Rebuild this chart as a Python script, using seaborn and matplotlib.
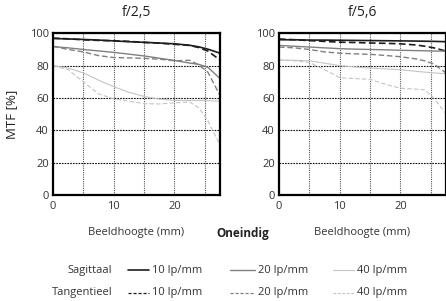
import numpy as np
import pandas as pd
import matplotlib
matplotlib.use("Agg")
import matplotlib.pyplot as plt
from matplotlib.lines import Line2D
import seaborn as sns

hoogte = [0, 2.5, 5, 7.5, 10, 12.5, 15, 17.5, 20, 22.5, 24, 25.5, 27.5]

# f/2,5
s10_25 = [96.8, 96.5, 96.2, 95.8, 95.3, 94.8, 94.4, 94.0, 93.5, 92.6, 91.6, 90.2, 87.7]
t10_25 = [97.0, 96.6, 96.0, 95.6, 95.4, 95.0, 94.4, 93.9, 93.2, 92.5, 91.2, 89.0, 83.5]
s20_25 = [91.8, 91.0, 90.0, 89.1, 88.2, 87.1, 86.0, 84.6, 83.2, 81.6, 80.8, 79.0, 72.0]
t20_25 = [92.0, 90.0, 88.5, 86.2, 85.0, 84.8, 84.5, 84.0, 83.0, 83.3, 80.5, 76.0, 61.5]
s40_25 = [80.0, 78.5, 75.5, 71.0, 67.0, 63.5, 61.0, 59.3, 58.5, 58.5, 58.5, 58.3, 58.0]
t40_25 = [80.0, 77.5, 70.0, 62.5, 59.5, 58.0, 56.5, 56.3, 57.0, 57.5, 54.0, 46.0, 31.0]

# f/5,6
s10_56 = [96.0, 96.0, 95.8, 95.8, 95.7, 95.6, 95.5, 95.4, 95.3, 95.2, 95.1, 95.0, 94.8]
t10_56 = [96.5, 96.0, 95.5, 95.0, 94.5, 94.3, 94.0, 93.8, 93.5, 92.8, 92.0, 91.0, 89.0]
s20_56 = [92.5, 92.0, 91.5, 91.0, 90.5, 90.2, 90.0, 89.8, 89.5, 89.3, 89.2, 89.0, 89.0]
t20_56 = [91.5, 91.0, 90.0, 88.5, 87.7, 87.3, 87.0, 86.3, 85.5, 84.2, 83.0, 81.0, 75.5]
s40_56 = [83.5, 83.3, 83.0, 81.5, 80.0, 79.2, 78.5, 78.0, 77.5, 76.5, 76.0, 75.5, 75.0]
t40_56 = [83.5, 83.0, 82.0, 77.5, 72.5, 72.0, 71.5, 68.5, 66.0, 65.5, 65.0, 60.0, 50.0]

panels = ["f/2,5", "f/5,6"]
freqs = ["10 lp/mm", "20 lp/mm", "40 lp/mm"]
richtingen = ["Sagittaal", "Tangentieel"]

series = {
    ("f/2,5", "Sagittaal", "10 lp/mm"): s10_25, ("f/2,5", "Tangentieel", "10 lp/mm"): t10_25,
    ("f/2,5", "Sagittaal", "20 lp/mm"): s20_25, ("f/2,5", "Tangentieel", "20 lp/mm"): t20_25,
    ("f/2,5", "Sagittaal", "40 lp/mm"): s40_25, ("f/2,5", "Tangentieel", "40 lp/mm"): t40_25,
    ("f/5,6", "Sagittaal", "10 lp/mm"): s10_56, ("f/5,6", "Tangentieel", "10 lp/mm"): t10_56,
    ("f/5,6", "Sagittaal", "20 lp/mm"): s20_56, ("f/5,6", "Tangentieel", "20 lp/mm"): t20_56,
    ("f/5,6", "Sagittaal", "40 lp/mm"): s40_56, ("f/5,6", "Tangentieel", "40 lp/mm"): t40_56,
}

rows = []
for (p, r, f), vals in series.items():
    for x, v in zip(hoogte, vals):
        rows.append({"panel": p, "richting": r, "freq": f, "hoogte": x, "mtf": v})
df = pd.DataFrame(rows)

sns.set_style("white")
plt.rcParams["font.family"] = ["Open Sans", "DejaVu Sans"]

kleuren = {"10 lp/mm": "#1e1e1e", "20 lp/mm": "#808080", "40 lp/mm": "#c4c4c4"}
diktes = {"10 lp/mm": 1.2, "20 lp/mm": 1.0, "40 lp/mm": 0.8}
strepen = {"Sagittaal": "", "Tangentieel": (4, 2)}

W, H = 446, 301
fig = plt.figure(figsize=(W / 100, H / 100), dpi=100)

def fx(px):
    return px / W

def fy(py):
    return 1 - py / H

ax_left = [53, 279]
ax_w = 167
top, bottom = 33.3, 195

for i, p in enumerate(panels):
    ax = fig.add_axes([fx(ax_left[i]), fy(bottom), fx(ax_w), (bottom - top) / H])
    sub = df[df["panel"] == p]
    sns.lineplot(data=sub, x="hoogte", y="mtf", hue="freq", style="richting",
                 size="freq", palette=kleuren, sizes=diktes, dashes=strepen,
                 hue_order=freqs, style_order=richtingen, size_order=freqs,
                 legend=False, ax=ax)
    ax.set_xlim(0, 27.5)
    ax.set_ylim(0, 100)
    ax.set_xticks([0, 10, 20])
    ax.set_xticks([5, 15, 25], minor=True)
    ax.set_yticks([0, 20, 40, 60, 80, 100])
    ax.grid(True, which="both", axis="x", color="#555555", linestyle=(0, (1, 1)), linewidth=0.8)
    ax.grid(True, which="major", axis="y", color="#111111", linestyle=(0, (1.5, 1)), linewidth=0.8)
    ax.set_axisbelow(True)
    ax.tick_params(axis="both", which="both", length=0, labelsize=8, colors="#333333")
    ax.tick_params(axis="x", pad=4)
    ax.tick_params(axis="y", pad=3)
    for s in ax.spines.values():
        s.set_color("black")
        s.set_linewidth(1.6)
    ax.set_xlabel("")
    ax.set_ylabel("")
    cx = ax_left[i] + ax_w / 2
    fig.text(fx(cx), fy(12), p, ha="center", va="center", fontsize=10, color="#222222")
    fig.text(fx(cx), fy(232), "Beeldhoogte (mm)", ha="center", va="center", fontsize=8, color="#333333")

fig.text(fx(12), fy(114), "MTF [%]", rotation=90, ha="center", va="center", fontsize=9.5, color="#222222")
fig.text(fx(243), fy(233), "Oneindig", ha="center", va="center", fontsize=8.5, fontweight="bold", color="#222222")

# legend drawn by hand, same layout as the original
rij_y = {"Sagittaal": 270, "Tangentieel": 293}
lijn_x = {"10 lp/mm": (128, 149), "20 lp/mm": (230, 255), "40 lp/mm": (333, 354)}
for r in richtingen:
    y = rij_y[r]
    fig.text(fx(112), fy(y), r, ha="right", va="center", fontsize=8, color="#333333")
    for f in freqs:
        x0, x1 = lijn_x[f]
        ls = "-" if r == "Sagittaal" else (0, (2.5, 1.5))
        lw = diktes[f] if r == "Sagittaal" else min(diktes[f], 0.9)
        fig.add_artist(Line2D([fx(x0), fx(x1)], [fy(y), fy(y)], color=kleuren[f],
                              linewidth=lw, linestyle=ls, transform=fig.transFigure))
        fig.text(fx(x1 + 3), fy(y), f, ha="left", va="center", fontsize=8, color="#333333")

fig.savefig("out.png", dpi=100)
